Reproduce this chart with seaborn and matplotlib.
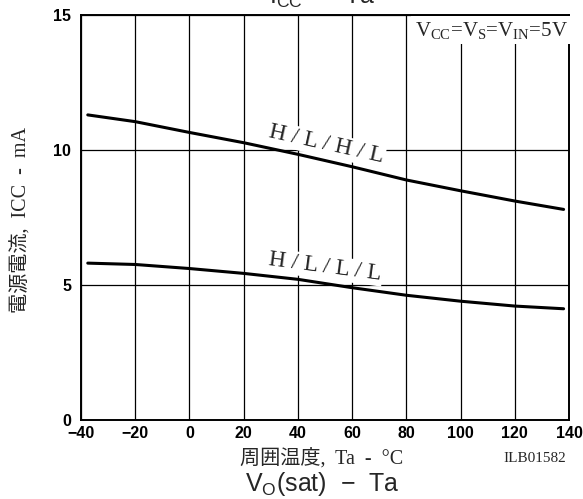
import matplotlib
matplotlib.use("Agg")
import matplotlib.pyplot as plt
import seaborn as sns
import pandas as pd

# Data
ta = [-37.5, -20, 0, 20, 40, 60, 80, 100, 120, 138]
icc_hlhl = [11.30, 11.05, 10.65, 10.27, 9.84, 9.38, 8.89, 8.49, 8.11, 7.80]
icc_hlll = [5.81, 5.76, 5.61, 5.43, 5.21, 4.90, 4.62, 4.40, 4.22, 4.12]
series_names = ["H / L / H / L", "H / L / L / L"]
x_ticks = [-40, -20, 0, 20, 40, 60, 80, 100, 120, 140]
y_ticks = [0, 5, 10, 15]

df = pd.DataFrame({
    "Ta": ta + ta,
    "ICC": icc_hlhl + icc_hlll,
    "mode": [series_names[0]] * len(ta) + [series_names[1]] * len(ta),
})

sns.set_style("white")
plt.rcParams["font.family"] = ["Liberation Serif", "Noto Sans CJK JP"]
plt.rcParams["mathtext.fontset"] = "custom"
plt.rcParams["mathtext.rm"] = "Liberation Serif"

fig = plt.figure(figsize=(5.83, 4.99), dpi=100)
ax = fig.add_axes([81 / 583, 1 - 420 / 499, (569 - 81) / 583, (420 - 15) / 499])

sns.lineplot(data=df, x="Ta", y="ICC", units="mode", estimator=None,
             color="black", linewidth=2.2, ax=ax, legend=False, zorder=3)

ax.set_xlim(-40, 140)
ax.set_ylim(0, 15)
ax.set_xticks(x_ticks)
ax.set_yticks(y_ticks)
ax.set_xticklabels([f"\u2212{abs(v)}" if v < 0 else str(v) for v in x_ticks],
                   family="Liberation Sans", fontweight="bold", fontsize=11.5)
ax.set_yticklabels([str(v) for v in y_ticks],
                   family="Liberation Sans", fontweight="bold", fontsize=11.5)
ax.tick_params(axis="x", length=0, pad=4, colors="black")
ax.tick_params(axis="y", length=0, pad=7, colors="black")
ax.grid(True, color="black", linewidth=0.9, zorder=1)
ax.set_axisbelow(True)
for s in ax.spines.values():
    s.set_color("black")
    s.set_linewidth(1.4)

ax.set_xlabel("")
ax.set_ylabel("")

# Curve labels with white masking boxes
ax.text(50.5, 10.2, series_names[0], rotation=-12.5, ha="center", va="center",
        fontsize=17, zorder=2, rotation_mode="anchor",
        bbox=dict(facecolor="white", edgecolor="none", pad=1.0))
ax.text(50, 5.66, series_names[1], rotation=-7.5, ha="center", va="center",
        fontsize=17, zorder=2, rotation_mode="anchor",
        bbox=dict(facecolor="white", edgecolor="none", pad=1.0))

# Condition annotation
cond = (r"$\mathregular{V_{CC}}$=$\mathregular{V_{S}}$="
        r"$\mathregular{V_{IN}}$=5V")
ax.text(0.997, 0.988, cond,
        transform=ax.transAxes, ha="right", va="top", fontsize=15, zorder=4,
        bbox=dict(facecolor="white", edgecolor="none", pad=2.5))

# Axis labels
fig.text(21 / 583, 1 - 220 / 499, "電源電流,  ICC  -  mA", rotation=90,
         ha="center", va="center", fontsize=14.5)
fig.text(322 / 583, 1 - 458 / 499, "周囲温度,  Ta  -  °C",
         ha="center", va="center", fontsize=14.5)
fig.text(566 / 583, 1 - 459 / 499, "ILB01582",
         ha="right", va="center", fontsize=11)

# Neighbouring titles (cropped in reference)
fig.text(322 / 583, 1 - 4 / 499, r"$\mathregular{I_{CC}}$  " + "\u2212  Ta",
         ha="center", va="baseline", fontsize=18, family="Liberation Sans")
fig.text(322 / 583, 1 - 484 / 499, r"V$_\mathregular{O}$(sat)  " + "\u2212  Ta",
         ha="center", va="center", fontsize=18, family="Liberation Sans")

fig.savefig("out.png", dpi=100)
